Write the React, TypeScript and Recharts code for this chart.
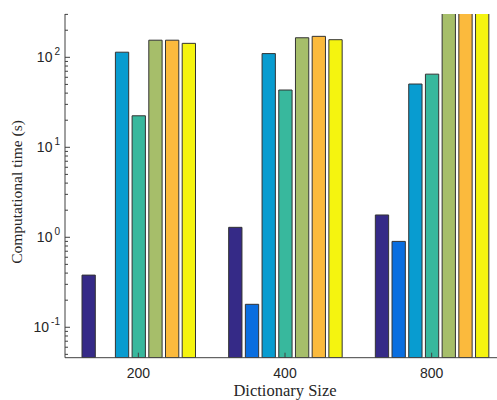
import { Bar, BarChart, XAxis, YAxis } from "recharts";

const categories = ["200", "400", "800"];
const seriesA = [0.38, 1.29, 1.77];
const seriesB = [null, 0.18, 0.9];
const seriesC = [114, 110, 50.5];
const seriesD = [22.4, 43.3, 65];
const seriesE = [155, 165, 400];
const seriesF = [155, 171, 400];
const seriesG = [143, 157, 400];
const yTicks = [
  0.05, 0.06, 0.07, 0.08, 0.09, 0.1, 0.2, 0.3, 0.4, 0.5, 0.6, 0.7, 0.8, 0.9,
  1, 2, 3, 4, 5, 6, 7, 8, 9, 10, 20, 30, 40, 50, 60, 70, 80, 90, 100, 200, 300,
];

const seriesKeys = ["a", "b", "c", "d", "e", "f", "g"];
const colors = ["#352a87", "#0a6ee0", "#089cd0", "#38b89d", "#a6be6a", "#fbba3d", "#f5f40f"];

const data = categories.map((name, i) => ({
  name,
  a: seriesA[i],
  b: seriesB[i],
  c: seriesC[i],
  d: seriesD[i],
  e: seriesE[i],
  f: seriesF[i],
  g: seriesG[i],
}));

const axisColor = "#404040";
const textColor = "#262626";

function YTick(props: any) {
  const { x, y, payload } = props;
  const v = payload.value as number;
  const exp = Math.log10(v);
  const major = Math.abs(exp - Math.round(exp)) < 1e-6;
  return (
    <g>
      <line x1={x} x2={x + (major ? 5 : 3)} y1={y} y2={y} stroke={axisColor} strokeWidth={1} />
      {major && (
        <text x={x - 5} y={y + 5} textAnchor="end" fill={textColor} fontFamily="Liberation Sans, Arial, sans-serif" fontSize={14}>
          10
          <tspan dx={2} dy={-7} fontSize={10}>
            {Math.round(exp)}
          </tspan>
        </text>
      )}
    </g>
  );
}

function XTickBottom(props: any) {
  const { x, y, payload } = props;
  return (
    <g>
      <line x1={x} x2={x} y1={y} y2={y - 5} stroke={axisColor} strokeWidth={1} />
      <text x={x} y={y + 20} textAnchor="middle" fill={textColor} fontFamily="Liberation Sans, Arial, sans-serif" fontSize={14}>
        {payload.value}
      </text>
    </g>
  );
}

function XTickTop(props: any) {
  const { x, y } = props;
  return <line x1={x} x2={x} y1={y} y2={y + 5} stroke={axisColor} strokeWidth={1} />;
}

export default function App() {
  return (
    <div style={{ position: "fixed", left: 0, top: 0, width: 497, height: 400, overflow: "hidden", background: "#fff" }}>
      <BarChart
        width={520}
        height={400}
        data={data}
        margin={{ top: 14, right: 15, left: 9, bottom: 12.3 }}
        barSize={13.3}
        barGap={3.4}
      >
        <XAxis
          dataKey="name"
          height={30}
          tickSize={0}
          tickMargin={0}
          tick={<XTickBottom />}
          tickLine={false}
          axisLine={{ stroke: axisColor }}
          label={{
            value: "Dictionary Size",
            position: "insideBottom",
            offset: -8,
            fill: textColor,
            fontSize: 16.5,
            fontFamily: "Liberation Serif, Times New Roman, serif",
          }}
        />
        <XAxis
          xAxisId="top"
          dataKey="name"
          orientation="top"
          height={0}
          tickSize={0}
          tickMargin={0}
          tick={<XTickTop />}
          tickLine={false}
          axisLine={{ stroke: axisColor }}
        />
        <YAxis
          width={56}
          scale="log"
          domain={[0.0459, 303]}
          allowDataOverflow
          ticks={yTicks}
          interval={0}
          tickSize={0}
          tickMargin={0}
          tickLine={false}
          tick={<YTick />}
          axisLine={{ stroke: axisColor }}
          label={{
            value: "Computational time (s)",
            angle: -90,
            position: "insideLeft",
            dx: 3,
            dy: 78,
            fill: textColor,
            fontSize: 15.5,
            fontFamily: "Liberation Serif, Times New Roman, serif",
          }}
        />
        {seriesKeys.map((k, i) => (
          <Bar key={k} dataKey={k} fill={colors[i]} stroke="#333333" strokeWidth={1} isAnimationActive={false} />
        ))}
      </BarChart>
    </div>
  );
}
